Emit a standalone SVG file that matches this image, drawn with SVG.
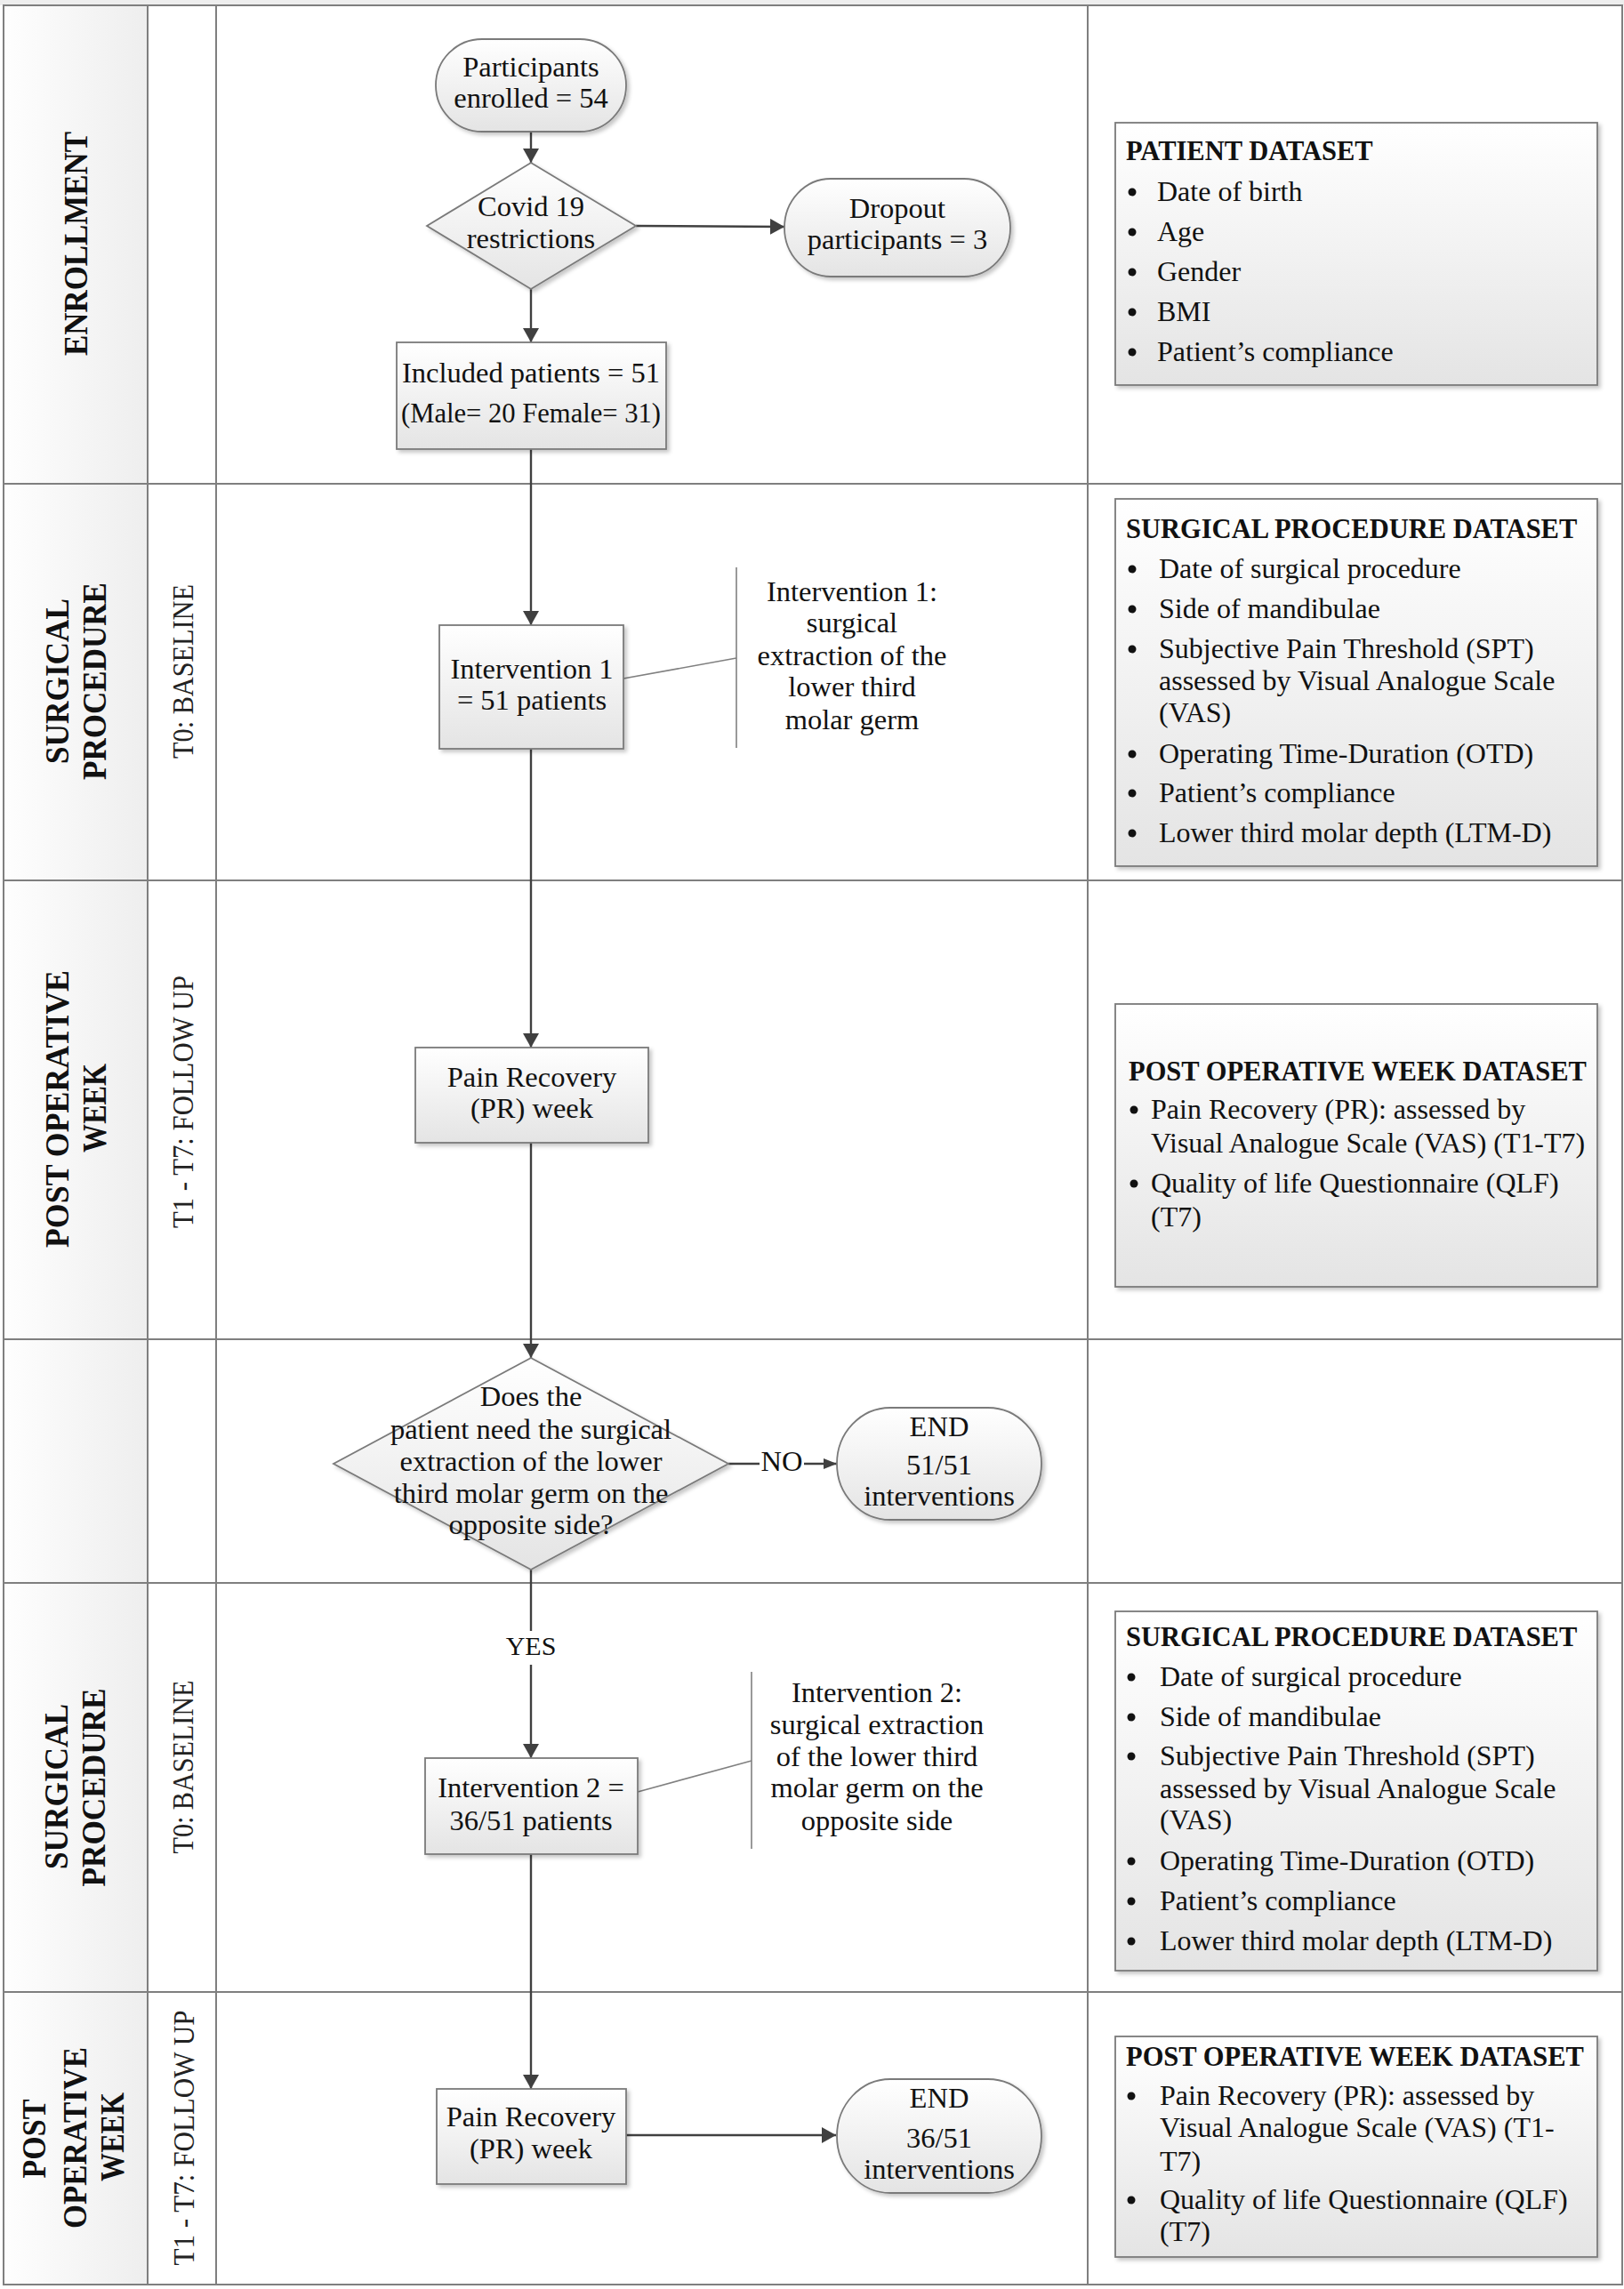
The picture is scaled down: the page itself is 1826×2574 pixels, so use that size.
<svg xmlns="http://www.w3.org/2000/svg" width="1826" height="2574" viewBox="0 0 1826 2574">
<defs>
  <linearGradient id="nodeFill" x1="0" y1="0" x2="0" y2="1">
    <stop offset="0" stop-color="#ffffff"/>
    <stop offset="1" stop-color="#e4e4e4"/>
  </linearGradient>
  <linearGradient id="headFill" x1="0" y1="0" x2="1" y2="0">
    <stop offset="0" stop-color="#fefefe"/>
    <stop offset="1" stop-color="#eeeeee"/>
  </linearGradient>
  <filter id="shadow" x="-10%" y="-10%" width="125%" height="125%">
    <feDropShadow dx="3" dy="3" stdDeviation="2" flood-color="#000000" flood-opacity="0.22"/>
  </filter>
  <marker id="arrow" viewBox="0 0 16 18" refX="16" refY="9" markerWidth="16" markerHeight="18" markerUnits="userSpaceOnUse" orient="auto">
    <path d="M0,0 L16,9 L0,18 z" fill="#404040"/>
  </marker>
  <marker id="arrowSmall" viewBox="0 0 15 12" refX="15" refY="6" markerWidth="15" markerHeight="12" markerUnits="userSpaceOnUse" orient="auto">
    <path d="M0,0 L15,6 L0,12 z" fill="#404040"/>
  </marker>
</defs>
<style>
  .grid { stroke: #7f7f7f; stroke-width: 2; fill: none; }
  .node { fill: url(#nodeFill); stroke: #7a7a7a; stroke-width: 1.8; filter: url(#shadow); }
  .ntext { font-family: "Liberation Serif", "Times New Roman", serif; font-size: 32.5px; fill: #111111; text-anchor: middle; }
  .dtitle { font-family: "Liberation Serif", "Times New Roman", serif; font-size: 30.5px; font-weight: bold; fill: #111111; }
  .dtext { font-family: "Liberation Serif", "Times New Roman", serif; font-size: 32px; fill: #111111; }
  .head { font-family: "Liberation Serif", "Times New Roman", serif; font-size: 37px; font-weight: bold; fill: #111111; text-anchor: middle; }
  .sub { font-family: "Liberation Serif", "Times New Roman", serif; font-size: 33px; fill: #222222; text-anchor: middle; }
  .conn { stroke: #404040; stroke-width: 2.4; fill: none; }
  .ann { stroke: #808080; stroke-width: 1.6; fill: none; }
  .dot { fill: #111111; }
</style>

<rect x="0" y="0" width="1826" height="2574" fill="#ffffff"/>
<rect x="0" y="0" width="1826" height="6" fill="#eeeeee"/>

<g id="swimlanes">
  <rect x="4" y="6" width="162" height="2563" fill="url(#headFill)"/>
  <rect class="grid" x="4" y="6" width="1820" height="2563"/>
  <line class="grid" x1="166" y1="6" x2="166" y2="2569"/>
  <line class="grid" x1="243" y1="6" x2="243" y2="2569" stroke-width="1.6"/>
  <line class="grid" x1="1223" y1="6" x2="1223" y2="2569" stroke-width="1.6"/>
  <line class="grid" x1="4" y1="544" x2="1824" y2="544"/>
  <line class="grid" x1="4" y1="990" x2="1824" y2="990"/>
  <line class="grid" x1="4" y1="1506" x2="1824" y2="1506"/>
  <line class="grid" x1="4" y1="1780" x2="1824" y2="1780"/>
  <line class="grid" x1="4" y1="2240" x2="1824" y2="2240"/>

  <text class="head" transform="translate(98,274) rotate(-90)" textLength="252" lengthAdjust="spacingAndGlyphs">ENROLLMENT</text>

  <text class="head" transform="translate(77,766) rotate(-90)" textLength="186" lengthAdjust="spacingAndGlyphs">SURGICAL</text>
  <text class="head" transform="translate(119,766) rotate(-90)" textLength="222" lengthAdjust="spacingAndGlyphs">PROCEDURE</text>
  <text class="sub" transform="translate(217,755) rotate(-90)" textLength="196" lengthAdjust="spacingAndGlyphs">T0: BASELINE</text>

  <text class="head" transform="translate(77,1247) rotate(-90)" textLength="312" lengthAdjust="spacingAndGlyphs">POST OPERATIVE</text>
  <text class="head" transform="translate(119,1246) rotate(-90)" textLength="100" lengthAdjust="spacingAndGlyphs">WEEK</text>
  <text class="sub" transform="translate(217,1239) rotate(-90)" textLength="284" lengthAdjust="spacingAndGlyphs">T1 - T7: FOLLOW UP</text>

  <text class="head" transform="translate(76,2009) rotate(-90)" textLength="186" lengthAdjust="spacingAndGlyphs">SURGICAL</text>
  <text class="head" transform="translate(118,2010) rotate(-90)" textLength="223" lengthAdjust="spacingAndGlyphs">PROCEDURE</text>
  <text class="sub" transform="translate(217,1987) rotate(-90)" textLength="195" lengthAdjust="spacingAndGlyphs">T0: BASELINE</text>

  <text class="head" transform="translate(51,2405) rotate(-90)" textLength="89" lengthAdjust="spacingAndGlyphs">POST</text>
  <text class="head" transform="translate(97,2404) rotate(-90)" textLength="204" lengthAdjust="spacingAndGlyphs">OPERATIVE</text>
  <text class="head" transform="translate(139,2403) rotate(-90)" textLength="100" lengthAdjust="spacingAndGlyphs">WEEK</text>
  <text class="sub" transform="translate(218,2404) rotate(-90)" textLength="287" lengthAdjust="spacingAndGlyphs">T1 - T7: FOLLOW UP</text>
</g>

<g id="connectors">
  <line class="conn" x1="597" y1="148" x2="597" y2="183" marker-end="url(#arrow)"/>
  <line class="conn" x1="715" y1="254" x2="882" y2="255" marker-end="url(#arrow)"/>
  <line class="conn" x1="597" y1="325" x2="597" y2="385" marker-end="url(#arrow)"/>
  <line class="conn" x1="597" y1="505" x2="597" y2="703" marker-end="url(#arrow)"/>
  <line class="conn" x1="597" y1="842" x2="597" y2="1178" marker-end="url(#arrow)"/>
  <line class="conn" x1="597" y1="1285" x2="597" y2="1527" marker-end="url(#arrow)"/>
  <line class="conn" x1="819" y1="1646" x2="941" y2="1646" marker-end="url(#arrowSmall)"/>
  <rect x="854" y="1624" width="50" height="36" fill="#ffffff"/>
  <text class="ntext" x="879" y="1654">NO</text>
  <line class="conn" x1="597" y1="1765" x2="597" y2="1977" marker-end="url(#arrow)"/>
  <rect x="566" y="1834" width="62" height="38" fill="#ffffff"/>
  <text class="ntext" x="597" y="1861" style="font-size:30px">YES</text>
  <line class="conn" x1="597" y1="2085" x2="597" y2="2349" marker-end="url(#arrow)"/>
  <line class="conn" x1="704" y1="2401" x2="940" y2="2401" marker-end="url(#arrow)"/>
  <line class="ann" x1="701" y1="763" x2="828" y2="740"/>
  <line class="ann" x1="717" y1="2015" x2="845" y2="1980"/>
</g>

<g id="participants">
  <rect class="node" x="490" y="44" width="214" height="104" rx="52" ry="52"/>
  <text class="ntext" x="597" y="86">Participants</text>
  <text class="ntext" x="597" y="121">enrolled = 54</text>
</g>
<g id="covid">
  <polygon class="node" points="597,183 715,254 597,325 480,254"/>
  <text class="ntext" x="597" y="243">Covid 19</text>
  <text class="ntext" x="597" y="279">restrictions</text>
</g>
<g id="dropout">
  <rect class="node" x="882" y="201" width="254" height="110" rx="52" ry="55"/>
  <text class="ntext" x="1009" y="245">Dropout</text>
  <text class="ntext" x="1009" y="280">participants = 3</text>
</g>
<g id="included">
  <rect class="node" x="446" y="385" width="303" height="120"/>
  <text class="ntext" x="597" y="430">Included patients = 51</text>
  <text class="ntext" x="597" y="475" textLength="292" lengthAdjust="spacingAndGlyphs">(Male= 20 Female= 31)</text>
</g>
<g id="intervention1">
  <rect class="node" x="494" y="703" width="207" height="139"/>
  <text class="ntext" x="598" y="763">Intervention 1</text>
  <text class="ntext" x="598" y="798">= 51 patients</text>
</g>
<g id="note1">
  <line class="ann" x1="828" y1="638" x2="828" y2="841"/>
  <text class="ntext" x="958" y="676">Intervention 1:</text>
  <text class="ntext" x="958" y="711">surgical</text>
  <text class="ntext" x="958" y="748">extraction of the</text>
  <text class="ntext" x="958" y="783">lower third</text>
  <text class="ntext" x="958" y="820">molar germ</text>
</g>
<g id="painrecovery1">
  <rect class="node" x="467" y="1178" width="262" height="107"/>
  <text class="ntext" x="598" y="1222">Pain Recovery</text>
  <text class="ntext" x="598" y="1257">(PR) week</text>
</g>
<g id="decision">
  <polygon class="node" points="597,1527 819,1646 597,1765 375,1646"/>
  <text class="ntext" x="597" y="1581">Does the</text>
  <text class="ntext" x="597" y="1618">patient need the surgical</text>
  <text class="ntext" x="597" y="1654">extraction of the lower</text>
  <text class="ntext" x="597" y="1690">third molar germ on the</text>
  <text class="ntext" x="597" y="1725">opposite side?</text>
</g>
<g id="end1">
  <rect class="node" x="941" y="1583" width="230" height="126" rx="60" ry="63"/>
  <text class="ntext" x="1056" y="1615">END</text>
  <text class="ntext" x="1056" y="1658">51/51</text>
  <text class="ntext" x="1056" y="1693">interventions</text>
</g>
<g id="intervention2">
  <rect class="node" x="478" y="1977" width="239" height="108"/>
  <text class="ntext" x="597" y="2021">Intervention 2 =</text>
  <text class="ntext" x="597" y="2058">36/51 patients</text>
</g>
<g id="note2">
  <line class="ann" x1="845" y1="1880" x2="845" y2="2079"/>
  <text class="ntext" x="986" y="1914">Intervention 2:</text>
  <text class="ntext" x="986" y="1950">surgical extraction</text>
  <text class="ntext" x="986" y="1986">of the lower third</text>
  <text class="ntext" x="986" y="2021">molar germ on the</text>
  <text class="ntext" x="986" y="2058">opposite side</text>
</g>
<g id="painrecovery2">
  <rect class="node" x="491" y="2349" width="213" height="107"/>
  <text class="ntext" x="597" y="2391">Pain Recovery</text>
  <text class="ntext" x="597" y="2427">(PR) week</text>
</g>
<g id="end2">
  <rect class="node" x="941" y="2338" width="230" height="128" rx="60" ry="64"/>
  <text class="ntext" x="1056" y="2370">END</text>
  <text class="ntext" x="1056" y="2415">36/51</text>
  <text class="ntext" x="1056" y="2450">interventions</text>
</g>

<g id="patient-dataset">
  <rect class="node" x="1254" y="138" width="542" height="295"/>
  <text class="dtitle" x="1266" y="180">PATIENT DATASET</text>
  <circle class="dot" cx="1273" cy="216" r="4.5"/><text class="dtext" x="1301" y="226">Date of birth</text>
  <circle class="dot" cx="1273" cy="261" r="4.5"/><text class="dtext" x="1301" y="271">Age</text>
  <circle class="dot" cx="1273" cy="306" r="4.5"/><text class="dtext" x="1301" y="316">Gender</text>
  <circle class="dot" cx="1273" cy="351" r="4.5"/><text class="dtext" x="1301" y="361">BMI</text>
  <circle class="dot" cx="1273" cy="396" r="4.5"/><text class="dtext" x="1301" y="406">Patient’s compliance</text>
</g>
<g id="surgical-dataset-1">
  <rect class="node" x="1254" y="561" width="542" height="413"/>
  <text class="dtitle" x="1266" y="605">SURGICAL PROCEDURE DATASET</text>
  <circle class="dot" cx="1273" cy="640" r="4.5"/><text class="dtext" x="1303" y="650">Date of surgical procedure</text>
  <circle class="dot" cx="1273" cy="685" r="4.5"/><text class="dtext" x="1303" y="695">Side of mandibulae</text>
  <circle class="dot" cx="1273" cy="730" r="4.5"/><text class="dtext" x="1303" y="740">Subjective Pain Threshold (SPT)</text>
  <text class="dtext" x="1303" y="776">assessed by Visual Analogue Scale</text>
  <text class="dtext" x="1303" y="812">(VAS)</text>
  <circle class="dot" cx="1273" cy="848" r="4.5"/><text class="dtext" x="1303" y="858">Operating Time-Duration (OTD)</text>
  <circle class="dot" cx="1273" cy="892" r="4.5"/><text class="dtext" x="1303" y="902">Patient’s compliance</text>
  <circle class="dot" cx="1273" cy="937" r="4.5"/><text class="dtext" x="1303" y="947">Lower third molar depth (LTM-D)</text>
</g>
<g id="postop-dataset-1">
  <rect class="node" x="1254" y="1129" width="542" height="318"/>
  <text class="dtitle" x="1269" y="1215">POST OPERATIVE WEEK DATASET</text>
  <circle class="dot" cx="1275" cy="1248" r="4.5"/><text class="dtext" x="1294" y="1258">Pain Recovery (PR): assessed by</text>
  <text class="dtext" x="1294" y="1296" textLength="488" lengthAdjust="spacingAndGlyphs">Visual Analogue Scale (VAS) (T1-T7)</text>
  <circle class="dot" cx="1275" cy="1331" r="4.5"/><text class="dtext" x="1294" y="1341">Quality of life Questionnaire (QLF)</text>
  <text class="dtext" x="1294" y="1379">(T7)</text>
</g>
<g id="surgical-dataset-2">
  <rect class="node" x="1254" y="1812" width="542" height="404"/>
  <text class="dtitle" x="1266" y="1851">SURGICAL PROCEDURE DATASET</text>
  <circle class="dot" cx="1272" cy="1886" r="4.5"/><text class="dtext" x="1304" y="1896">Date of surgical procedure</text>
  <circle class="dot" cx="1272" cy="1931" r="4.5"/><text class="dtext" x="1304" y="1941">Side of mandibulae</text>
  <circle class="dot" cx="1272" cy="1975" r="4.5"/><text class="dtext" x="1304" y="1985">Subjective Pain Threshold (SPT)</text>
  <text class="dtext" x="1304" y="2022">assessed by Visual Analogue Scale</text>
  <text class="dtext" x="1304" y="2057">(VAS)</text>
  <circle class="dot" cx="1272" cy="2093" r="4.5"/><text class="dtext" x="1304" y="2103">Operating Time-Duration (OTD)</text>
  <circle class="dot" cx="1272" cy="2138" r="4.5"/><text class="dtext" x="1304" y="2148">Patient’s compliance</text>
  <circle class="dot" cx="1272" cy="2183" r="4.5"/><text class="dtext" x="1304" y="2193">Lower third molar depth (LTM-D)</text>
</g>
<g id="postop-dataset-2">
  <rect class="node" x="1254" y="2290" width="542" height="248"/>
  <text class="dtitle" x="1266" y="2323">POST OPERATIVE WEEK DATASET</text>
  <circle class="dot" cx="1272" cy="2357" r="4.5"/><text class="dtext" x="1304" y="2367">Pain Recovery (PR): assessed by</text>
  <text class="dtext" x="1304" y="2403">Visual Analogue Scale (VAS) (T1-</text>
  <text class="dtext" x="1304" y="2441">T7)</text>
  <circle class="dot" cx="1272" cy="2474" r="4.5"/><text class="dtext" x="1304" y="2484">Quality of life Questionnaire (QLF)</text>
  <text class="dtext" x="1304" y="2520">(T7)</text>
</g>
</svg>
